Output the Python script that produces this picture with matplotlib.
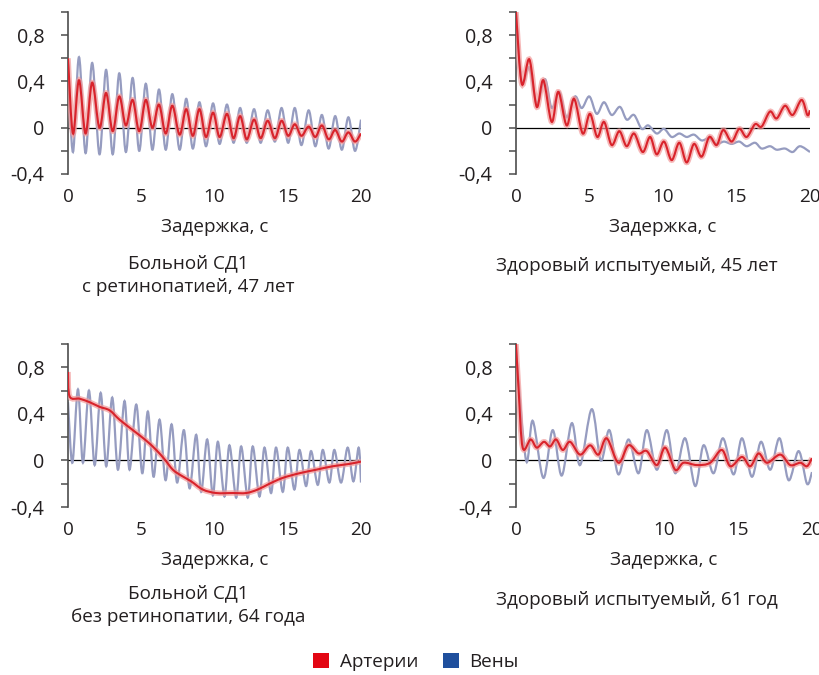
import matplotlib
matplotlib.use('Agg')
import matplotlib.pyplot as plt
import matplotlib.patheffects as pe
from matplotlib.patches import Patch, PathPatch
from matplotlib.path import Path

plt.rcParams['font.family'] = ['Open Sans', 'DejaVu Sans']

# lag, s  /  autocorrelation values (extrema)
tl_t = [0, 0.34, 0.75, 1.20, 1.65, 2.15, 2.60, 3.05, 3.50, 3.95, 4.41, 4.86, 5.31, 5.76, 6.21,
        6.67, 7.12, 7.62, 8.07, 8.52, 8.97, 9.42, 9.90, 10.35, 10.85, 11.30, 11.75, 12.20, 12.70,
        13.15, 13.63, 14.12, 14.58, 15.03, 15.48, 15.93, 16.43, 16.88, 17.33, 17.79, 18.24, 18.69,
        19.14, 19.59, 20.0]
tl_ven = [0.55, -0.21, 0.61, -0.22, 0.56, -0.23, 0.50, -0.23, 0.47, -0.21, 0.43, -0.20, 0.38, -0.19,
          0.33, -0.19, 0.29, -0.19, 0.25, -0.18, 0.22, -0.16, 0.21, -0.14, 0.20, -0.13, 0.17, -0.13,
          0.16, -0.13, 0.15, -0.12, 0.17, -0.13, 0.17, -0.15, 0.15, -0.16, 0.11, -0.18, 0.10, -0.19,
          0.09, -0.20, 0.07]
tl_art = [0.60, -0.05, 0.41, -0.05, 0.39, 0.0, 0.30, -0.03, 0.27, 0.02, 0.24, -0.03, 0.24, 0.0,
          0.20, -0.05, 0.19, -0.06, 0.16, -0.07, 0.16, -0.08, 0.13, -0.08, 0.12, -0.09, 0.10, -0.10,
          0.07, -0.09, 0.06, -0.09, 0.06, -0.07, 0.03, -0.07, 0.01, -0.08, 0.02, -0.10, -0.02, -0.12,
          -0.04, -0.12, -0.05]

tr_t_art = [0, 0.39, 0.91, 1.41, 1.86, 2.43, 2.88, 3.45, 3.95, 4.54, 5.03, 5.53, 5.99, 6.51, 7.03,
            7.53, 8.03, 8.62, 9.12, 9.57, 10.07, 10.59, 11.11, 11.61, 12.11, 12.63, 13.15, 13.65,
            14.10, 14.67, 15.19, 15.69, 16.26, 16.71, 17.28, 17.73, 18.30, 18.82, 19.43, 19.82, 20.0]
tr_art = [1.0, 0.38, 0.59, 0.18, 0.41, 0.05, 0.31, 0.02, 0.25, -0.05, 0.12, -0.08, 0.05, -0.15,
          -0.03, -0.16, -0.05, -0.21, -0.08, -0.23, -0.12, -0.28, -0.13, -0.30, -0.14, -0.25, -0.08,
          -0.15, -0.02, -0.12, -0.01, -0.08, 0.03, 0.01, 0.14, 0.08, 0.19, 0.11, 0.24, 0.11, 0.15]
tr_t_ven = [0, 0.39, 0.91, 1.41, 1.97, 2.43, 2.95, 3.45, 4.01, 4.47, 4.99, 5.49, 5.99, 6.51, 7.07,
            7.53, 8.03, 8.55, 9.00, 9.57, 10.07, 10.59, 11.11, 11.61, 12.11, 12.63, 13.15, 13.65,
            14.15, 14.67, 15.19, 15.69, 16.26, 16.71, 17.28, 17.73, 18.30, 18.82, 19.32, 20.0]
tr_ven = [1.0, 0.40, 0.52, 0.21, 0.42, 0.17, 0.31, 0.09, 0.27, 0.17, 0.27, 0.12, 0.22, 0.11, 0.18,
          0.07, 0.11, -0.01, 0.02, -0.05, -0.01, -0.08, -0.05, -0.08, -0.06, -0.11, -0.09, -0.14,
          -0.12, -0.14, -0.12, -0.16, -0.13, -0.18, -0.16, -0.19, -0.18, -0.21, -0.16, -0.21]

bl_t_ven = [0, 0.30, 0.68, 1.02, 1.43, 1.82, 2.23, 2.61, 3.02, 3.41, 3.86, 4.20, 4.66, 5.07, 5.45,
            5.84, 6.25, 6.66, 7.07, 7.45, 7.91, 8.30, 8.75, 9.09, 9.50, 9.89, 10.23, 10.68, 11.02,
            11.48, 11.82, 12.27, 12.61, 13.07, 13.41, 13.86, 14.20, 14.66, 15.00, 15.45, 15.80,
            16.25, 16.59, 17.05, 17.39, 17.84, 18.18, 18.64, 19.09, 19.48, 19.84, 20.0]
bl_ven = [0.50, -0.02, 0.61, -0.02, 0.60, -0.04, 0.58, -0.05, 0.54, -0.08, 0.51, -0.08, 0.48, -0.11,
          0.42, -0.14, 0.35, -0.17, 0.31, -0.19, 0.26, -0.24, 0.22, -0.27, 0.18, -0.30, 0.16, -0.31,
          0.13, -0.32, 0.12, -0.32, 0.12, -0.31, 0.11, -0.28, 0.11, -0.27, 0.11, -0.25, 0.09, -0.22,
          0.08, -0.21, 0.09, -0.19, 0.09, -0.19, 0.11, -0.18, 0.11, -0.19]
bl_t_art = [0, 0.11, 0.80, 1.48, 2.16, 2.84, 3.52, 4.43, 5.34, 6.02, 6.59, 7.16, 7.73, 8.41, 9.20,
            10.11, 11.25, 12.16, 12.95, 13.75, 14.66, 15.80, 16.93, 18.07, 19.20, 20.0]
bl_art = [0.76, 0.55, 0.53, 0.50, 0.46, 0.43, 0.35, 0.26, 0.17, 0.09, 0.01, -0.08, -0.13, -0.18,
          -0.25, -0.28, -0.28, -0.28, -0.25, -0.20, -0.15, -0.11, -0.08, -0.05, -0.03, -0.01]

br_t_art = [0, 0.18, 0.45, 0.99, 1.40, 1.89, 2.30, 2.71, 3.16, 3.65, 4.33, 5.01, 5.57, 6.13, 6.92,
            7.60, 8.28, 8.84, 9.52, 10.08, 10.76, 11.32, 12.22, 13.12, 13.91, 14.48, 15.27, 15.83,
            16.39, 16.96, 17.86, 18.53, 19.21, 19.66, 20.0]
br_art = [1.0, 0.6, 0.11, 0.18, 0.11, 0.16, 0.12, 0.18, 0.09, 0.16, 0.05, 0.13, 0.05, 0.19, -0.02,
          0.13, 0.06, 0.08, -0.04, 0.11, -0.08, -0.02, -0.04, -0.02, 0.09, -0.05, 0.03, -0.05, 0.06,
          -0.02, 0.05, -0.04, -0.02, -0.05, 0.02]
br_t_ven = [0, 0.68, 1.13, 1.85, 2.48, 3.09, 3.77, 4.33, 5.12, 5.73, 6.31, 6.92, 7.60, 8.28, 8.84,
            9.52, 10.19, 10.76, 11.43, 12.11, 12.67, 13.35, 13.98, 14.70, 15.27, 15.94, 16.55,
            17.18, 17.81, 18.42, 19.10, 19.66, 20.0]
br_ven = [0.95, 0.0, 0.34, -0.15, 0.26, -0.13, 0.32, -0.04, 0.44, 0.0, 0.26, -0.12, 0.18, -0.11,
          0.26, -0.08, 0.26, -0.11, 0.19, -0.22, 0.13, -0.11, 0.19, -0.12, 0.19, -0.14, 0.16, -0.08,
          0.19, -0.17, 0.08, -0.20, -0.10]

x_ticks = [0, 5, 10, 15, 20]
y_ticks = [-0.4, -0.2, 0, 0.2, 0.4, 0.6, 0.8, 1.0]
y_labels = ['-0,4', '', '0', '', '0,4', '', '0,8', '']
x_title = 'Задержка, с'
titles = ['Больной СД1\nс ретинопатией, 47 лет', 'Здоровый испытуемый, 45 лет',
          'Больной СД1\nбез ретинопатии, 64 года', 'Здоровый испытуемый, 61 год']
legend_names = ['Артерии', 'Вены']

RED = '#d9232b'
RED_GLOW = '#f29a9a'
BLUE = '#969cc0'
LEG_RED = '#e30613'
LEG_BLUE = '#1f4f9d'
TXT = '#231f20'
FS = 13.6

W, H = 820, 675
fig = plt.figure(figsize=(W / 100, H / 100), dpi=100)


def px_axes(x0, x1, ytop, ybot):
    return fig.add_axes([x0 / W, 1 - ybot / H, (x1 - x0) / W, (ybot - ytop) / H])


def smooth_path(xs, ys):
    # Catmull-Rom curve through the read points, as cubic bezier pieces
    pts = list(zip(xs, ys))
    n = len(pts)
    verts = [pts[0]]
    codes = [Path.MOVETO]
    for i in range(n - 1):
        p0 = pts[i - 1] if i > 0 else pts[i]
        p1, p2 = pts[i], pts[i + 1]
        p3 = pts[i + 2] if i + 2 < n else pts[i + 1]
        c1 = (p1[0] + (p2[0] - p0[0]) / 6, p1[1] + (p2[1] - p0[1]) / 6)
        c2 = (p2[0] - (p3[0] - p1[0]) / 6, p2[1] - (p3[1] - p1[1]) / 6)
        verts += [c1, c2, p2]
        codes += [Path.CURVE4] * 3
    return Path(verts, codes)


def draw_panel(ax, t_ven, ven, t_art, art):
    ax.axhline(0, color='black', lw=0.9, zorder=1)
    ax.add_patch(PathPatch(smooth_path(t_ven, ven), facecolor='none', edgecolor=BLUE,
                           lw=1.6, zorder=2))
    ax.add_patch(PathPatch(smooth_path(t_art, art), facecolor='none', edgecolor=RED,
                           lw=1.5, zorder=3,
                           path_effects=[pe.Stroke(linewidth=4, foreground=RED_GLOW, alpha=0.7),
                                         pe.Normal()]))
    ax.set_xlim(0, 20)
    ax.set_ylim(-0.4, 1.0)
    for s in ['top', 'right', 'bottom']:
        ax.spines[s].set_visible(False)
    ax.spines['left'].set_color('#4d4d4d')
    ax.spines['left'].set_linewidth(1.2)
    ax.set_yticks(y_ticks)
    ax.set_yticklabels(y_labels)
    ax.set_xticks(x_ticks)
    ax.set_xticklabels([str(v) for v in x_ticks])
    ax.tick_params(axis='y', length=5, width=1.1, color='#4d4d4d', pad=12,
                   labelsize=14.2, labelcolor=TXT)
    ax.tick_params(axis='x', length=0, pad=10, labelsize=FS, labelcolor=TXT)
    ax.set_xlabel(x_title, fontsize=FS, color=TXT, labelpad=9)
    ax.patch.set_alpha(0)


ax1 = px_axes(68, 361, 12, 174)
ax2 = px_axes(516, 810, 12, 174)
ax3 = px_axes(68, 361, 344, 507)
ax4 = px_axes(516, 812, 344, 507)

draw_panel(ax1, tl_t, tl_ven, tl_t, tl_art)
draw_panel(ax2, tr_t_ven, tr_ven, tr_t_art, tr_art)
draw_panel(ax3, bl_t_ven, bl_ven, bl_t_art, bl_art)
draw_panel(ax4, br_t_ven, br_ven, br_t_art, br_art)

title_pos = [(188, 275), (637, 266), (188, 605), (637, 600)]
for (tx, ty), s in zip(title_pos, titles):
    fig.text(tx / W, 1 - ty / H, s, ha='center', va='center', fontsize=FS,
             color=TXT, linespacing=1.42)

handles = [Patch(facecolor=LEG_RED, edgecolor='none'), Patch(facecolor=LEG_BLUE, edgecolor='none')]
fig.legend(handles, legend_names, loc='center', bbox_to_anchor=(416 / W, 1 - 662 / H), ncol=2,
           frameon=False, fontsize=FS, handlelength=0.85, handleheight=0.85,
           handletextpad=0.55, columnspacing=1.3, labelcolor=TXT)

fig.savefig('out.png', dpi=100)
